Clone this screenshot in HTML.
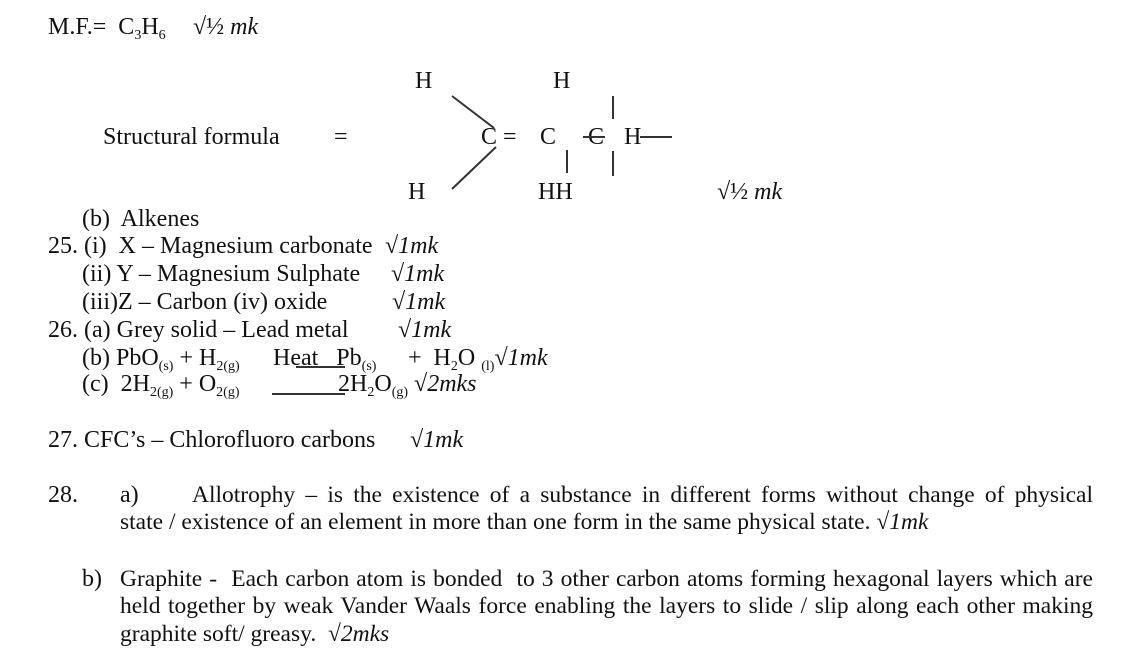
<!DOCTYPE html>
<html><head><meta charset="utf-8"><style>
body{margin:0;width:1136px;height:651px;background:#fff;position:relative;font-family:"Liberation Serif",serif;font-size:24px;color:#111;overflow:hidden}
.t{position:absolute;line-height:28px;white-space:nowrap}
sub{font-size:14px;vertical-align:-5px;line-height:0}
i{font-style:italic}
.j{position:absolute;line-height:28px;text-align:justify;text-align-last:justify;white-space:nowrap;font-size:23.5px}
</style></head><body>
<div class="t" style="left:48px;top:13px">M.F.=&nbsp; C<sub>3</sub>H<sub>6</sub></div>
<div class="t" style="left:193px;top:13px">√½ <i>mk</i></div>

<div class="t" style="left:103px;top:123px">Structural formula</div>
<div class="t" style="left:334px;top:123px">=</div>
<div class="t" style="left:415px;top:67px">H</div>
<div class="t" style="left:553px;top:67px">H</div>
<div class="t" style="left:408px;top:178px">H</div>
<div class="t" style="left:538px;top:178px">HH</div>
<div class="t" style="left:481px;top:123px">C =</div>
<div class="t" style="left:540px;top:123px">C</div>
<div class="t" style="left:588px;top:123px">C</div>
<div class="t" style="left:624px;top:123px">H</div>
<svg style="position:absolute;left:0;top:0" width="1136" height="651">
<g stroke="#333" stroke-width="2" fill="none">
<line x1="452" y1="96" x2="494" y2="128"/>
<line x1="496" y1="147" x2="452" y2="189"/>
<line x1="613" y1="96" x2="613" y2="119"/>
<line x1="567" y1="150" x2="567" y2="173"/>
<line x1="613" y1="151" x2="613" y2="176"/>
<line x1="583" y1="137" x2="605" y2="137"/>
<line x1="640" y1="137" x2="672" y2="137"/>
<line x1="296" y1="367" x2="345" y2="367"/>
<line x1="272" y1="394" x2="345" y2="394"/>
</g></svg>
<div class="t" style="left:717px;top:178px">√½ <i>mk</i></div>

<div class="t" style="left:82px;top:205px">(b)&nbsp; Alkenes</div>
<div class="t" style="left:48px;top:232px">25. (i)&nbsp; X – Magnesium carbonate</div>
<div class="t" style="left:385px;top:232px">√<i>1mk</i></div>
<div class="t" style="left:82px;top:260px">(ii) Y – Magnesium Sulphate</div>
<div class="t" style="left:391px;top:260px">√<i>1mk</i></div>
<div class="t" style="left:82px;top:288px">(iii)Z – Carbon (iv) oxide</div>
<div class="t" style="left:392px;top:288px">√<i>1mk</i></div>
<div class="t" style="left:48px;top:316px">26. (a) Grey solid – Lead metal</div>
<div class="t" style="left:398px;top:316px">√<i>1mk</i></div>
<div class="t" style="left:82px;top:344px">(b) PbO<sub>(s)</sub> + H<sub>2(g)</sub></div>
<div class="t" style="left:273px;top:344px">Heat&nbsp;&nbsp; Pb<sub>(s)</sub></div>
<div class="t" style="left:408px;top:344px">+&nbsp; H<sub>2</sub>O <sub>(l)</sub>√<i>1mk</i></div>
<div class="t" style="left:82px;top:370px">(c)&nbsp; 2H<sub>2(g)</sub> + O<sub>2(g)</sub></div>
<div class="t" style="left:338px;top:370px">2H<sub>2</sub>O<sub>(g)</sub> √<i>2mks</i></div>

<div class="t" style="left:48px;top:426px">27. CFC’s – Chlorofluoro carbons</div>
<div class="t" style="left:410px;top:426px">√<i>1mk</i></div>

<div class="t" style="left:48px;top:481px">28.</div>
<div class="t" style="left:120px;top:481px">a)</div>
<div class="j" style="left:192px;top:481px;width:901px">Allotrophy – is the existence of a substance in different forms without change of physical</div>
<div class="t" style="left:120px;top:508px;font-size:23.5px">state / existence of an element in more than one form in the same physical state. √<i>1mk</i></div>

<div class="t" style="left:82px;top:565px">b)</div>
<div class="j" style="left:120px;top:565px;width:973px">Graphite -&nbsp; Each carbon atom is bonded&nbsp; to 3 other carbon atoms forming hexagonal layers which are</div>
<div class="j" style="left:120px;top:592px;width:973px">held together by weak Vander Waals force enabling the layers to slide / slip along each other making</div>
<div class="t" style="left:120px;top:620px;font-size:23.5px">graphite soft/ greasy.&nbsp; √<i>2mks</i></div>
</body></html>
